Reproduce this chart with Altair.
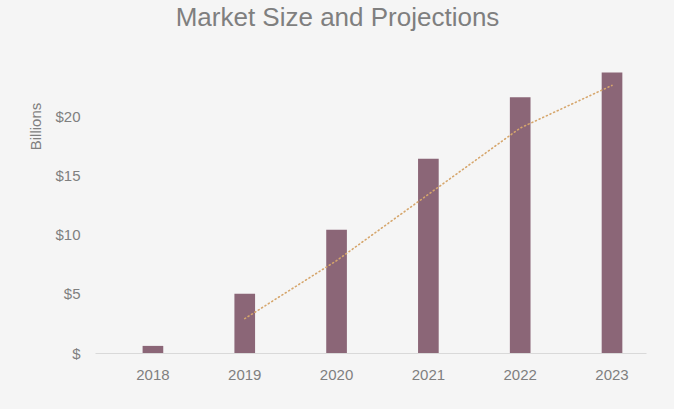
import altair as alt
import pandas as pd

years = ["2018", "2019", "2020", "2021", "2022", "2023"]
market = [0.6, 5.0, 10.4, 16.4, 21.6, 23.7]
trend_years = ["2019", "2020", "2021", "2022", "2023"]
trend = [2.9, 7.8, 13.4, 19.0, 22.6]
y_ticks = [0, 5, 10, 15, 20]

bars_df = pd.DataFrame({"year": years, "value": market})
trend_df = pd.DataFrame({"year": trend_years, "value": trend})

FONT = "Liberation Sans"
GRAY = "#7f7f7f"

x_enc = alt.X(
    "year:N",
    sort=years,
    scale=alt.Scale(domain=years, paddingInner=0.775, paddingOuter=0.388,
                    align=0.668),
    axis=alt.Axis(
        title=None, labelAngle=0, ticks=False, domainColor="#d9d9d9",
        domainWidth=1, labelPadding=14, labelFontSize=15, labelColor=GRAY,
        labelFont=FONT, grid=False,
    ),
)
y_scale = alt.Scale(domain=[0, 25], nice=False)

bars = alt.Chart(bars_df).mark_bar(color="#8b6677").encode(
    x=x_enc,
    y=alt.Y(
        "value:Q",
        scale=y_scale,
        axis=alt.Axis(
            values=y_ticks, title="Billions", domain=False, ticks=False,
            grid=False, labelPadding=15, labelFontSize=15, labelColor=GRAY,
            labelFont=FONT,
            labelExpr="datum.value == 0 ? '$' : '$' + datum.value",
            titleFont=FONT, titleFontSize=15, titleFontWeight="normal",
            titleColor=GRAY, titleAngle=270, titleX=-60, titleY=69,
            titleAlign="center", titleBaseline="middle",
        ),
    ),
)

line = alt.Chart(trend_df).mark_line(
    color="#d6a66c", strokeWidth=1.6, strokeDash=[1, 3], strokeCap="round"
).encode(
    x=alt.X("year:N", sort=years),
    y=alt.Y("value:Q", scale=y_scale),
)

chart = (
    alt.layer(bars, line)
    .properties(
        width=551,
        height=296,
        autosize=alt.AutoSizeParams(type="none"),
        padding={"left": 95, "top": 57, "right": 28, "bottom": 56},
        background="#f5f5f5",
        title=alt.TitleParams(
            "Market Size and Projections", font=FONT, fontSize=26,
            fontWeight="normal", color=GRAY, anchor="middle", offset=26,
            dx=-33,
        ),
    )
    .configure_view(stroke=None)
)

chart.save("out.html", embed_options={"renderer": "svg", "actions": False})
